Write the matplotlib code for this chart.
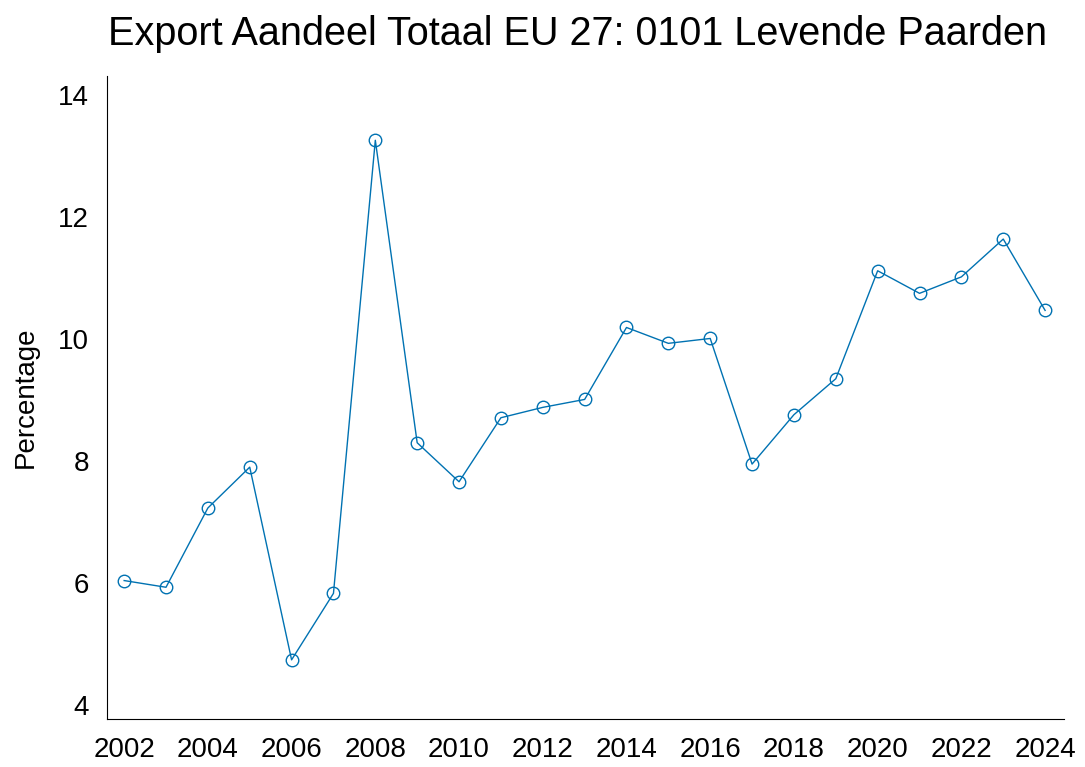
import numpy as np
import matplotlib.pyplot as plt

plt.rcParams['font.family'] = ['Liberation Sans', 'DejaVu Sans']

years = [2002, 2003, 2004, 2005, 2006, 2007, 2008, 2009, 2010, 2011, 2012, 2013,
         2014, 2015, 2016, 2017, 2018, 2019, 2020, 2021, 2022, 2023, 2024]
share = [6.04, 5.93, 7.23, 7.90, 4.74, 5.83, 13.26, 8.30, 7.66, 8.71, 8.88, 9.01,
         10.19, 9.93, 10.01, 7.95, 8.76, 9.35, 11.12, 10.75, 11.02, 11.64, 10.47]
xticks = list(range(2002, 2025, 2))
yticks = [4, 6, 8, 10, 12, 14]

fig = plt.figure(figsize=(10.85, 7.67), dpi=100)
ax = fig.add_axes([0.0986, 0.0626, 0.882, 0.838])

ax.plot(years, share, color='#0072B2', lw=1.0, marker='o', ms=9,
        mfc='none', mec='#0072B2', mew=1.0)

ax.set_xlim(2001.59, 2024.45)
ax.set_ylim(3.77, 14.31)
ax.set_xticks(xticks)
ax.set_yticks(yticks)
ax.tick_params(length=0, labelsize=20, pad=13)
ax.spines['top'].set_visible(False)
ax.spines['right'].set_visible(False)
ax.set_ylabel('Percentage', fontsize=20, labelpad=14)
# title centred over the plot area, not the figure
fig.suptitle('Export Aandeel Totaal EU 27: 0101 Levende Paarden', fontsize=28.5,
             x=0.5325, y=0.98)

fig.savefig('out.png', dpi=100)
